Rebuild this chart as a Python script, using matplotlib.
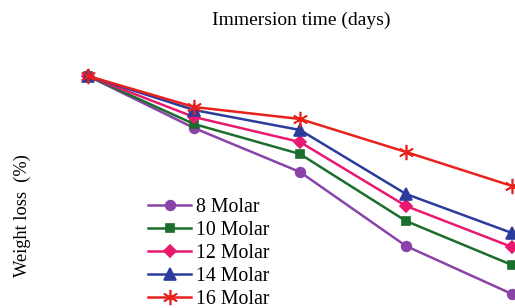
import matplotlib.pyplot as plt

plt.rcParams['font.family'] = ['Liberation Serif', 'DejaVu Serif']

days = [1, 2, 3, 4, 5]
labels = ['8 Molar', '10 Molar', '12 Molar', '14 Molar', '16 Molar']
# weight loss (arbitrary units, grows downward)
w8 = [0, 1.04, 1.92, 3.40, 4.36]
w10 = [0, 0.96, 1.56, 2.90, 3.78]
w12 = [0, 0.82, 1.32, 2.60, 3.42]
w14 = [0, 0.68, 1.08, 2.36, 3.14]
w16 = [0, 0.62, 0.86, 1.52, 2.20]

series = [w8, w10, w12, w14, w16]
colors = ['#8a44a8', '#1c6e2c', '#e8196f', '#2b3c9c', '#e8211d']
markers = ['o', 's', 'D', '^', (6, 2, 0)]
msizes = [7, 6, 6.2, 8, 11]

fig = plt.figure(figsize=(5.15, 3.08), dpi=100)
ax = fig.add_axes([0, 0, 1, 1])

for vals, lab, c, m, ms in zip(series, labels, colors, markers, msizes):
    ax.plot(days, vals, color=c, marker=m, markersize=ms, lw=1.8,
            mew=1.2, label=lab)

ax.set_xlim(1 - 88 / 106, 1 + 427 / 106)
ax.set_ylim(232 / 50, -76 / 50)
ax.axis('off')

fig.text(0.585, 0.935, 'Immersion time (days)', ha='center', va='center',
         fontsize=14)
fig.text(0.043, 0.30, 'Weight loss  (%)', rotation=90, ha='center',
         va='center', fontsize=13.2)

ax.legend(loc='upper left', bbox_to_anchor=(0.287, 0.356), frameon=False,
          fontsize=14.3, handlelength=2.2, handletextpad=0.25,
          labelspacing=0.2, borderpad=0, borderaxespad=0)

fig.savefig('out.png', dpi=100)
